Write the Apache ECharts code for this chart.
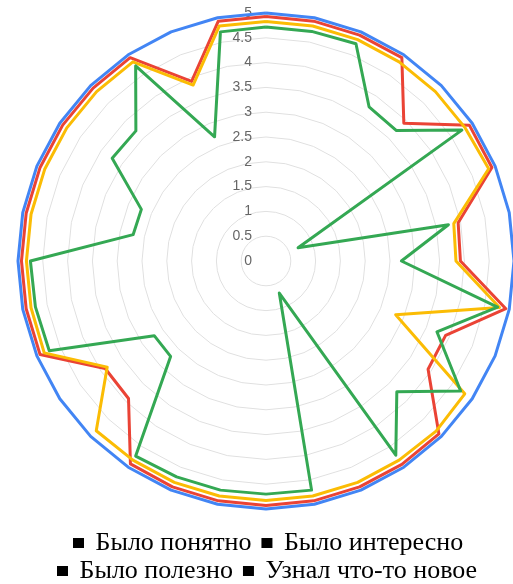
<!DOCTYPE html>
<html>
<head>
<meta charset="utf-8">
<script src="https://cdn.jsdelivr.net/npm/echarts@6/dist/echarts.min.js"></script>
<style>
html,body{margin:0;padding:0;background:#fff;}
#chart{width:513px;height:584px;}
</style>
</head>
<body>
<div id="chart"></div>
<script>
// Values listed clockwise starting from the top axis (32 axes)
const seriesNames = ['Было понятно', 'Было интересно', 'Было полезно', 'Узнал что-то новое'];
const colors = ['#4285F4', '#EA4335', '#FBBC04', '#34A853'];
const tickMax = 5;
const tickStep = 0.5;

const blueValues = [5,5,5,5,5,5,5,5,5,5,5,5,5,5,5,5,5,5,5,5,5,5,5,5,5,5,5,5,5,5,5,5];
const redValues = [4.93,4.93,4.93,4.93,3.93,4.93,4.93,3.95,3.92,4.93,3.92,3.93,4.93,4.93,4.93,4.93,
                   4.93,4.93,4.93,4.92,3.92,3.9,4.93,4.93,4.93,4.93,4.93,4.93,4.93,4.93,3.92,4.93];
const yellowValues = [4.83,4.83,4.83,4.83,4.83,4.83,4.86,3.86,3.83,4.8,2.83,4.82,4.85,4.83,4.83,4.83,
                      4.83,4.83,4.83,4.83,4.84,3.85,4.84,4.83,4.83,4.83,4.83,4.83,4.83,4.83,3.84,4.83];
const greenValues = [4.72,4.72,4.74,3.74,3.72,4.75,0.7,3.75,2.73,4.76,3.73,4.72,3.73,4.71,0.7,4.71,
                     4.7,4.71,4.71,4.73,2.72,2.71,4.73,4.74,4.75,2.73,2.72,3.73,3.71,4.73,2.71,4.71];

// ECharts places indicators counter-clockwise; reorder the clockwise readings
function toCCW(arr){ return [arr[0]].concat(arr.slice(1).reverse()); }

const n = blueValues.length;
const indicators = [];
for (let i = 0; i < n; i++) {
  const ind = { name: '', min: 0, max: tickMax };
  if (i === 0) {
    ind.axisLabel = {
      show: true, color: '#666', fontSize: 14, fontFamily: 'Arial, Liberation Sans, sans-serif', margin: 14
    };
  }
  indicators.push(ind);
}

const allValues = [blueValues, redValues, yellowValues, greenValues];

const chart = echarts.init(document.getElementById('chart'), null, {renderer: 'canvas'});
const legendCommon = {
  icon: 'rect',
  itemWidth: 11,
  itemHeight: 10,
  itemGap: 10,
  padding: 0,
  formatter: ' {name}',
  itemStyle: { color: '#000' },
  textStyle: { fontFamily: 'Liberation Serif, Times New Roman, serif', fontSize: 26, color: '#000' }
};
chart.setOption({
  animation: false,
  color: colors,
  legend: [
    Object.assign({}, legendCommon, { left: 73, top: 530, data: seriesNames.slice(0, 2) }),
    Object.assign({}, legendCommon, { left: 57, top: 558, data: seriesNames.slice(2, 4) })
  ],
  radar: {
    center: [266, 261],
    radius: 248,
    startAngle: 90,
    shape: 'polygon',
    splitNumber: tickMax / tickStep,
    indicator: indicators,
    axisName: { show: false },
    axisLine: { show: false },
    axisTick: { show: false },
    axisLabel: { show: false },
    splitArea: { show: false },
    splitLine: { lineStyle: { color: '#e0e0e0', width: 1 } }
  },
  series: seriesNames.map(function (name, i) {
    return {
      name: name,
      type: 'radar',
      symbol: 'none',
      lineStyle: { width: 3, color: colors[i] },
      itemStyle: { color: colors[i] },
      data: [{ value: toCCW(allValues[i]), name: name }]
    };
  })
});
</script>
</body>
</html>
